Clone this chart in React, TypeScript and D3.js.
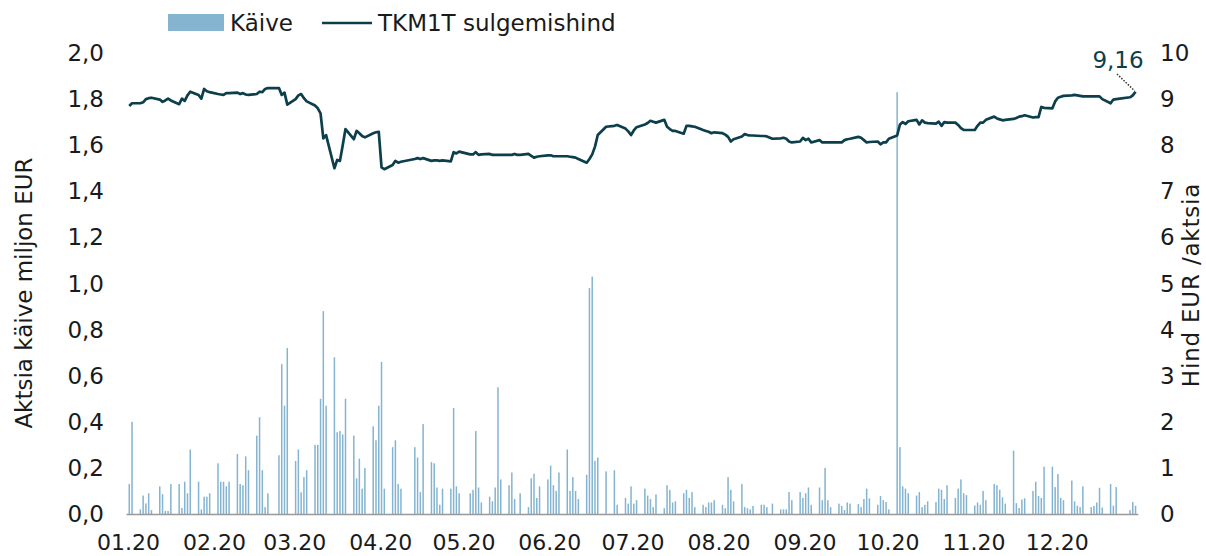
import * as React from 'react';
import * as d3 from 'd3';

// trading-day data, Tallinn stock exchange 2020
const monthLabels = ['01.20', '02.20', '03.20', '04.20', '05.20', '06.20', '07.20', '08.20', '09.20', '10.20', '11.20', '12.20'];
const holidays = ['2020-01-01', '2020-02-24', '2020-04-10', '2020-04-13', '2020-05-01', '2020-06-23', '2020-06-24', '2020-08-20', '2020-12-24', '2020-12-25', '2020-12-31'];

// Käive, miljon EUR
const volJan = [0.13, 0.40, 0.02, 0.08, 0.046, 0.09, 0.017, 0.12, 0.086, 0.013, 0.013, 0.13, 0.13, 0.026, 0.14, 0.09, 0.28, 0.14, 0.02, 0.075, 0.075, 0.09];
const volFeb = [0.22, 0.14, 0.14, 0.12, 0.14, 0.26, 0.13, 0.125, 0.25, 0.19, 0.34, 0.42, 0.19, 0.03, 0.09, 0.255, 0.65, 0.47, 0.72];
const volMar = [0.23, 0.28, 0.094, 0.16, 0.19, 0.30, 0.30, 0.50, 0.88, 0.47, 0.68, 0.355, 0.36, 0.345, 0.50, 0.34, 0.155, 0.24, 0.11, 0.20, 0.38, 0.32];
const volApr = [0.47, 0.66, 0.11, 0.29, 0.32, 0.13, 0.11, 0.29, 0.245, 0.095, 0.39, 0.225, 0.22, 0.115, 0.04, 0.11, 0.11, 0.46, 0.12, 0.09];
const volMay = [0.09, 0.105, 0.36, 0.115, 0.05, 0.075, 0.055, 0.115, 0.55, 0.15, 0.125, 0.18, 0.065, 0, 0.09, 0.03, 0.155, 0.175, 0.07, 0.12];
const volJun = [0.15, 0.21, 0.125, 0.10, 0.18, 0.28, 0.10, 0.16, 0.10, 0.065, 0.17, 0.98, 1.03, 0.23, 0.245, 0.185, 0.19, 0.04, 0.07, 0.045];
const volJul = [0.12, 0.045, 0.06, 0.11, 0.08, 0.065, 0.03, 0.085, 0.025, 0.125, 0.105, 0.05, 0.055, 0.09, 0.105, 0.07, 0.095, 0.03, 0.04, 0.03, 0.05, 0.05, 0.06];
const volAug = [0.04, 0.025, 0.16, 0.105, 0.055, 0.13, 0.03, 0.025, 0.02, 0.035, 0.04, 0.04, 0.03, 0.045, 0.02, 0.02, 0.02, 0.095, 0.06, 0.095];
const volSep = [0.07, 0.09, 0.115, 0.04, 0.115, 0.06, 0.20, 0.06, 0.03, 0.045, 0.035, 0.017, 0.05, 0.045, 0.043, 0.03, 0.065, 0.11, 0.068, 0.04, 0.078, 0.06];
const volOct = [0.052, 0.02, 1.83, 0.29, 0.12, 0.11, 0.09, 0.08, 0.095, 0.03, 0.04, 0.055, 0.052, 0.11, 0.105, 0.065, 0.125, 0.07, 0.11, 0.15, 0.09, 0.082];
const volNov = [0.037, 0.05, 0.04, 0.10, 0.06, 0.13, 0.125, 0.105, 0.072, 0.045, 0.275, 0.047, 0.026, 0.063, 0.068, 0.10, 0.14, 0.078, 0.07, 0.205, 0.205];
const volDec = [0.117, 0.173, 0.07, 0.06, 0.145, 0.055, 0.036, 0.03, 0.12, 0.03, 0.035, 0.05, 0.114, 0.028, 0.13, 0.036, 0.117, 0.017, 0.052, 0.036];

// TKM1T sulgemishind, EUR
const priceJan = [8.85, 8.91, 8.91, 8.93, 9.0, 9.02, 9.03, 8.99, 8.94, 8.97, 9.01, 8.97, 8.89, 9.01, 8.96, 9.08, 9.16, 9.09, 9.01, 9.22, 9.17, 9.15];
const priceFeb = [9.11, 9.10, 9.09, 9.13, 9.13, 9.14, 9.11, 9.13, 9.10, 9.09, 9.11, 9.16, 9.15, 9.22, 9.24, 9.24, 9.09, 9.14, 8.88];
const priceMar = [9.0, 9.08, 9.11, 9.02, 8.95, 8.86, 8.80, 8.69, 8.15, 8.22, 7.50, 7.68, 7.66, 8.0, 8.35, 8.13, 8.31, 8.26, 8.20, 8.17, 8.26, 8.28];
const priceApr = [8.29, 7.52, 7.48, 7.57, 7.66, 7.62, 7.64, 7.70, 7.72, 7.70, 7.72, 7.66, 7.67, 7.67, 7.66, 7.67, 7.65, 7.85, 7.82, 7.86];
const priceMay = [7.80, 7.80, 7.85, 7.79, 7.80, 7.81, 7.79, 7.79, 7.79, 7.79, 7.79, 7.79, 7.81, 7.79, 7.79, 7.81, 7.77, 7.73, 7.75, 7.76];
const priceJun = [7.78, 7.78, 7.76, 7.76, 7.76, 7.76, 7.75, 7.74, 7.73, 7.70, 7.62, 7.70, 7.80, 7.97, 8.22, 8.40, 8.42, 8.44, 8.36, 8.30];
const priceJul = [8.22, 8.32, 8.39, 8.45, 8.48, 8.53, 8.51, 8.49, 8.55, 8.40, 8.35, 8.31, 8.31, 8.25, 8.42, 8.42, 8.41, 8.40, 8.33, 8.31, 8.29, 8.26, 8.28];
const priceAug = [8.26, 8.23, 8.18, 8.08, 8.13, 8.19, 8.24, 8.22, 8.21, 8.21, 8.20, 8.20, 8.19, 8.14, 8.15, 8.16, 8.14, 8.08, 8.06, 8.08];
const priceSep = [8.16, 8.11, 8.14, 8.06, 8.11, 8.06, 8.06, 8.06, 8.06, 8.06, 8.06, 8.11, 8.13, 8.14, 8.18, 8.16, 8.11, 8.06, 8.07, 8.08, 8.02, 8.06];
const priceOct = [8.06, 8.14, 8.21, 8.45, 8.50, 8.46, 8.52, 8.55, 8.45, 8.54, 8.49, 8.48, 8.47, 8.51, 8.42, 8.50, 8.49, 8.49, 8.44, 8.37, 8.33, 8.33];
const priceNov = [8.33, 8.42, 8.49, 8.49, 8.55, 8.62, 8.58, 8.56, 8.54, 8.55, 8.57, 8.59, 8.62, 8.63, 8.65, 8.60, 8.61, 8.61, 8.83, 8.81, 8.80];
const priceDec = [8.95, 9.03, 9.05, 9.07, 9.08, 9.09, 9.08, 9.07, 9.06, 9.06, 9.06, 9.06, 9.06, 9.00, 8.91, 8.99, 9.00, 9.04, 9.08, 9.16];

const volumeByMonth = [volJan, volFeb, volMar, volApr, volMay, volJun, volJul, volAug, volSep, volOct, volNov, volDec];
const priceByMonth = [priceJan, priceFeb, priceMar, priceApr, priceMay, priceJun, priceJul, priceAug, priceSep, priceOct, priceNov, priceDec];

const barColor = '#84b4cf';
const lineColor = '#0c3f4c';
const font = '"DejaVu Sans", sans-serif';

interface Day { date: Date; vol: number; price: number }

const fmtDay = d3.timeFormat('%Y-%m-%d');
const tradingDays = (m: number) =>
  d3.timeDay
    .range(new Date(2020, m, 1), new Date(2020, m + 1, 1))
    .filter((d) => d.getDay() !== 0 && d.getDay() !== 6 && !holidays.includes(fmtDay(d)));

const data: Day[] = monthLabels.flatMap((_, i) =>
  tradingDays(i).map((date, j) => ({ date, vol: volumeByMonth[i][j] ?? 0, price: priceByMonth[i][j] ?? NaN }))
);

const App: React.FC = () => {
  const width = 1206;
  const height = 556;
  const baseY = 514;
  const topY = 53;

  const x = d3.scaleTime().domain([new Date(2020, 0, 1), new Date(2021, 0, 1)]).range([126.5, 1141.1]);
  const yVol = d3.scaleLinear().domain([0, 2]).range([baseY, topY]);
  const yPrice = d3.scaleLinear().domain([0, 10]).range([baseY, topY]);

  const comma = d3.formatLocale({ decimal: ',', thousands: ' ', grouping: [3], currency: ['', ' €'] });
  const fmtVol = comma.format('.1f');
  const fmtPrice = comma.format('.2f');

  const line = d3
    .line<Day>()
    .defined((d) => !isNaN(d.price))
    .x((d) => x(d.date))
    .y((d) => yPrice(d.price));

  const last = data[data.length - 1];
  const lastX = x(last.date);
  const lastY = yPrice(last.price);
  const monthStarts = d3.timeMonth.range(new Date(2020, 0, 1), new Date(2021, 0, 1));

  return (
    <svg width={width} height={height} style={{ position: 'absolute', left: 0, top: 0 }} fontFamily={font}>
      <rect width={width} height={height} fill="#fff" />

      {/* legend */}
      <rect x={168} y={14} width={56} height={17} fill={barColor} />
      <text x={230} y={31} fontSize={23} fill="#1a1a1a">Käive</text>
      <line x1={322} x2={372} y1={23} y2={23} stroke={lineColor} strokeWidth={2.6} />
      <text x={378} y={31} fontSize={23} fill="#1a1a1a">TKM1T sulgemishind</text>

      {/* bars */}
      <g fill={barColor}>
        {data.map((d, i) => (
          <rect key={i} x={x(d.date) - 0.75} width={1.5} y={yVol(d.vol)} height={baseY - yVol(d.vol)} />
        ))}
      </g>

      <line x1={x(new Date(2020, 0, 1))} x2={x(new Date(2020, 11, 31))} y1={baseY + 0.5} y2={baseY + 0.5} stroke="#999" strokeWidth={1.6} />

      {/* price line */}
      <path d={line(data) || ''} fill="none" stroke={lineColor} strokeWidth={2.7} strokeLinejoin="round" />

      {/* left axis */}
      <g fontSize={23} fill="#1a1a1a" textAnchor="end">
        {yVol.ticks(10).map((t) => (
          <text key={t} x={104} y={yVol(t)} dy="0.35em">{fmtVol(t)}</text>
        ))}
      </g>
      <text transform="translate(32,293) rotate(-90)" textAnchor="middle" fontSize={23} fill="#1a1a1a">
        Aktsia käive miljon EUR
      </text>

      {/* right axis */}
      <g fontSize={23} fill="#1a1a1a" textAnchor="start">
        {yPrice.ticks(10).map((t) => (
          <text key={t} x={1160} y={yPrice(t)} dy="0.35em">{t}</text>
        ))}
      </g>
      <text transform="translate(1199,285) rotate(-90)" textAnchor="middle" fontSize={23} letterSpacing={0.8} fill="#1a1a1a">
        Hind EUR /aktsia
      </text>

      {/* x axis labels */}
      <g fontSize={22} fill="#1a1a1a" textAnchor="middle">
        {monthStarts.map((m, i) => (
          <text key={i} x={x(m) + 2} y={550}>{monthLabels[i]}</text>
        ))}
      </g>

      {/* last price annotation */}
      <line x1={1117} y1={74} x2={lastX - 1} y2={lastY - 1} stroke="#333" strokeWidth={1.5} strokeDasharray="1.5 1.5" />
      <text x={1118} y={68} textAnchor="middle" fontSize={23} fill={lineColor}>{fmtPrice(last.price)}</text>
    </svg>
  );
};

export default App;
